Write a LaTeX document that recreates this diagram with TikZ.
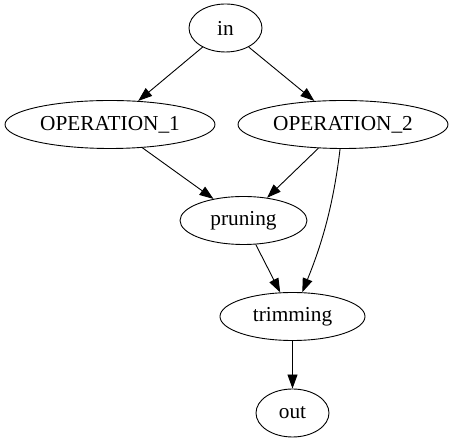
\documentclass[tikz,border=0pt]{standalone}
\usepackage{fontspec}
\setmainfont{Liberation Serif}
\usetikzlibrary{shapes.geometric}
\usetikzlibrary{arrows.meta}
\usetikzlibrary{positioning}
\begin{document}
\begin{tikzpicture}[x=1pt,y=1pt]
\tikzset{opnode/.style={ellipse,draw,line width=0.9pt,inner sep=0pt,minimum height=48pt,font=\fontsize{21.3}{25}\selectfont},
flow/.style={line width=0.9pt,-{Triangle[length=14pt,width=10pt]}}}
\useasboundingbox (0,0) rectangle (454,443);
\node[opnode,minimum width=73pt](in) at (225.5,415){in};
\node[opnode,minimum width=210pt](op1) at (110,318.5){OPERATION\_1};
\node[opnode,minimum width=210pt](op2) at (343,318.5){OPERATION\_2};
\node[opnode,minimum width=127pt](pruning) at (243.5,222.5){pruning};
\node[opnode,minimum width=145pt](trimming) at (292.5,126.5){trimming};
\node[opnode,minimum width=73pt](out) at (292.5,30){out};
\draw[flow](in) -- (op1);
\draw[flow](in) -- (op2);
\draw[flow](op1) -- (pruning);
\draw[flow](op2) -- (pruning);
\draw[flow](op2) .. controls (333,235) and (321,197) .. (trimming);
\draw[flow](pruning) -- (trimming);
\draw[flow](trimming) -- (out);
\end{tikzpicture}
\end{document}
